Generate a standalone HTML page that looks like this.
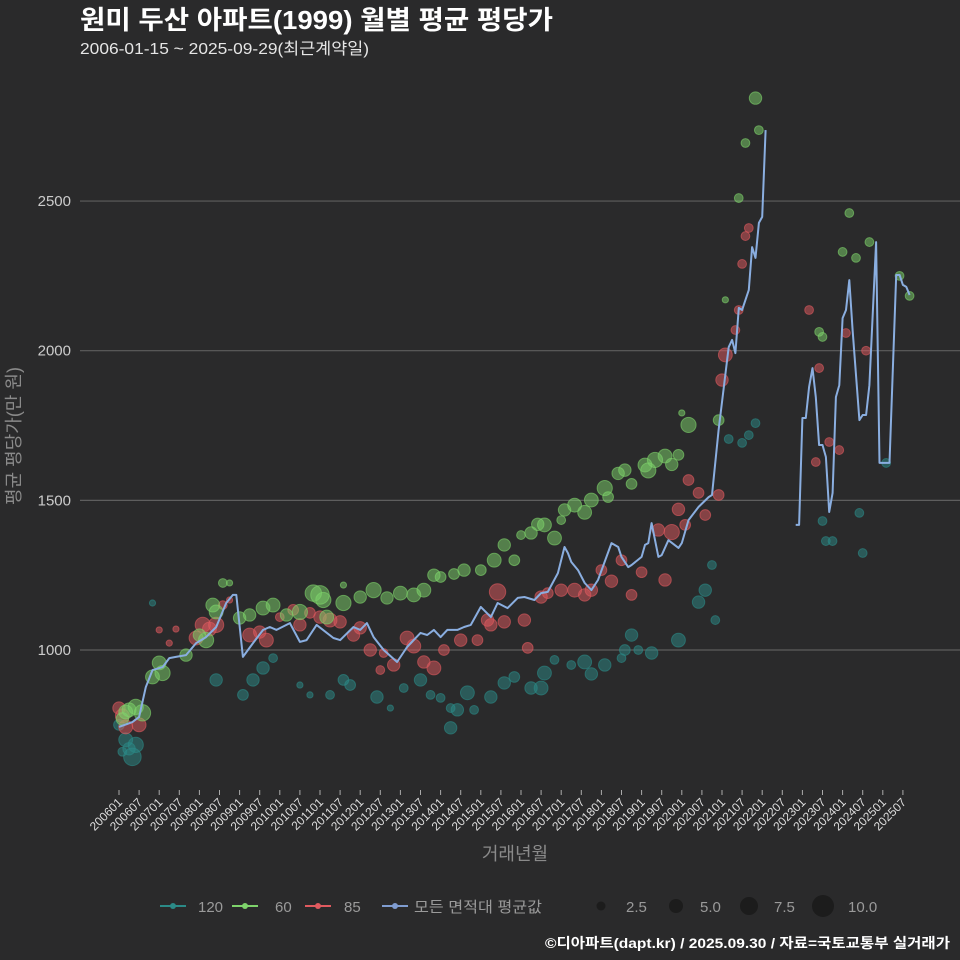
<!DOCTYPE html>
<html><head><meta charset="utf-8">
<style>
html,body{margin:0;padding:0;background:#2a2a2b;}
svg{display:block;font-family:"Liberation Sans","Noto Sans CJK KR",sans-serif;}
</style></head>
<body>
<svg id="chart" width="960" height="960" viewBox="0 0 960 960">
<rect x="0" y="0" width="960" height="960" fill="#2a2a2b"/>
<text x="80" y="29" fill="#ffffff" font-size="26" font-weight="bold" textLength="473" lengthAdjust="spacingAndGlyphs">원미 두산 아파트(1999) 월별 평균 평당가</text>
<text x="80" y="54" fill="#e6e6e6" font-size="16" textLength="289" lengthAdjust="spacingAndGlyphs">2006-01-15 ~ 2025-09-29(최근계약일)</text>
<text transform="translate(20,436) rotate(-90)" text-anchor="middle" fill="#8a8a8a" font-size="18">평균 평당가(만 원)</text>
<text x="515" y="860" text-anchor="middle" fill="#8a8a8a" font-size="18">거래년월</text>
<g id="grid"></g>
<g id="yticks"></g>
<g id="xticks"></g>
<g id="points"></g>
<g id="line"></g>
<g id="legend">
  <g><line x1="160" y1="906" x2="186" y2="906" stroke="#2b8a87" stroke-width="2"/><circle cx="173" cy="906" r="3" fill="#2b8a87"/><text x="198" y="912" fill="#9a9a9a" font-size="15">120</text></g>
  <g><line x1="232" y1="906" x2="258" y2="906" stroke="#7ed36b" stroke-width="2"/><circle cx="245" cy="906" r="3" fill="#7ed36b"/><text x="275" y="912" fill="#9a9a9a" font-size="15">60</text></g>
  <g><line x1="305" y1="906" x2="331" y2="906" stroke="#e05a5f" stroke-width="2"/><circle cx="318" cy="906" r="3" fill="#e05a5f"/><text x="344" y="912" fill="#9a9a9a" font-size="15">85</text></g>
  <g><line x1="382" y1="906" x2="408" y2="906" stroke="#7f9cd0" stroke-width="2"/><circle cx="395" cy="906" r="3" fill="#7f9cd0"/><text x="414" y="912" fill="#9a9a9a" font-size="15" textLength="128" lengthAdjust="spacingAndGlyphs">모든 면적대 평균값</text></g>
  <g>
    <circle cx="601" cy="906" r="4.5" fill="#1c1c1c"/><text x="626" y="912" fill="#9a9a9a" font-size="15">2.5</text>
    <circle cx="676" cy="906" r="7" fill="#1c1c1c"/><text x="700" y="912" fill="#9a9a9a" font-size="15">5.0</text>
    <circle cx="749" cy="906" r="9" fill="#1c1c1c"/><text x="774" y="912" fill="#9a9a9a" font-size="15">7.5</text>
    <circle cx="823" cy="906" r="11" fill="#1c1c1c"/><text x="848" y="912" fill="#9a9a9a" font-size="15">10.0</text>
  </g>
</g>
<text x="950" y="948" text-anchor="end" fill="#ffffff" font-size="14" font-weight="bold" textLength="405" lengthAdjust="spacingAndGlyphs">©디아파트(dapt.kr) / 2025.09.30 / 자료=국토교통부 실거래가</text>
</svg>
<script>
// ---- data ----
const yTicks = [1000, 1500, 2000, 2500];
const avgMonths = [0,4,6,8,10,13,15,17,20,23,26,29,32,34,35,37,40,43,45,47,51,54,56,59,64,66,70,72,74,76,79,83,86,90,92,94,96,98,101,103,105,108,111,113,116,119,121,124,126,128,131,133,134,135,137,139,141,143,147,149,150,152,153,156,157,158,159,161,162,164,167,168,170,173,176,177,179,182,183,184,185,186,188,189,190,191,192,193,197,202,203,204,205,206,207,208,209,210,211,212,213,214,215,216,217,218,219,221,222,223,224,226,227,230,232,233,234,235,236];
const avgValues = [743,759,776,876,933,943,973,977,983,1023,1043,1077,1157,1184,1184,977,1023,1067,1077,1067,1090,1027,1033,1084,1040,1033,1077,1067,1090,1043,1000,960,1010,1057,1050,1067,1043,1067,1067,1077,1084,1144,1110,1157,1140,1174,1177,1167,1190,1194,1257,1344,1324,1294,1267,1224,1200,1234,1357,1344,1311,1277,1284,1311,1351,1357,1424,1311,1317,1367,1341,1357,1434,1478,1511,1518,1735,2012,2036,1992,2143,2136,2203,2346,2310,2427,2447,2737,null,1418,1418,1775,1775,1879,1942,1845,1685,1685,1645,1461,1525,1845,1885,2109,2136,2236,2069,1768,1785,1785,1885,2363,1625,1625,2253,2253,2220,2213,2186];

const g60Months = [2,5,7,10,13,12,20,26,29,31,33,36,39,43,46,50,54,60,61,67,67,72,76,80,88,91,96,100,103,108,112,115,120,123,127,130,132,133,136,141,145,146,151,153,157,160,163,167,168,170,179,181,185,187,190,191,209,210,216,218,220,224,233,236,1,3,24,28,58,62,84,94,118,125,139,149,158,165];
const g60Values = [793,810,790,910,923,957,983,1033,1127,1224,1224,1107,1117,1140,1150,1117,1127,1184,1167,1157,1217,1177,1200,1174,1184,1200,1244,1254,1267,1267,1300,1351,1384,1391,1418,1374,1434,1468,1484,1501,1541,1511,1601,1555,1618,1635,1648,1652,1792,1752,1768,2170,2510,2694,2844,2737,2063,2046,2330,2460,2310,2363,2250,2183,770,800,1050,1150,1190,1110,1190,1250,1300,1420,1460,1590,1600,1620];
const g60Sizes = [5,6,7,5,6,5,4,6,5,2,1,4,4,5,5,4,6,9,6,6,1,4,6,4,5,5,3,3,4,3,5,4,2,4,5,5,2,4,5,5,6,3,4,3,5,6,5,3,1,6,3,1,2,2,4,2,2,2,2,2,2,2,2,2,4,5,4,5,7,5,5,4,3,4,5,4,6,4];

const g120Months = [0,2,4,5,10,29,40,43,46,37,54,57,63,67,69,77,81,85,90,93,96,99,101,104,106,99,111,115,118,123,126,127,130,135,139,141,145,150,151,153,155,159,167,173,175,177,178,210,211,213,221,222,182,186,188,190,229,3,1];
const g120Values = [750,700,643,683,1157,900,900,940,973,850,883,850,850,900,883,843,806,873,900,850,840,806,800,857,800,740,843,890,910,873,873,923,967,950,960,920,950,973,1000,1050,1000,990,1033,1160,1200,1284,1100,1431,1364,1364,1458,1324,1705,1692,1718,1758,1625,670,660];
const g120Sizes = [3,5,8,6,1,4,4,4,2,3,1,1,2,3,3,4,1,2,4,2,2,2,4,5,2,4,4,4,3,4,5,5,2,2,5,4,4,2,3,4,2,4,5,4,4,2,2,2,2,2,2,2,2,2,2,2,2,4,2];

const g85Months = [0,2,6,12,17,15,23,25,29,33,39,44,48,52,54,57,63,66,72,75,79,78,82,88,91,94,97,102,107,111,113,115,121,122,126,132,136,139,141,144,150,153,156,161,163,165,169,170,173,175,179,181,180,184,185,186,187,188,206,208,209,212,215,217,223,1,27,31,42,60,70,86,110,128,147,167];
const g85Values = [806,743,750,1067,1070,1023,1040,1084,1084,1167,1050,1033,1110,1134,1084,1124,1100,1094,1074,1000,990,933,950,1013,960,940,1000,1033,1033,1084,1194,1094,1100,1007,1177,1200,1200,1184,1200,1267,1300,1184,1260,1401,1234,1394,1418,1568,1525,1451,1518,1986,1902,2069,2136,2290,2383,2410,2136,1628,1942,1695,1668,2059,2000,780,1070,1150,1060,1110,1050,1040,1100,1190,1230,1470];
const g85Sizes = [4,5,5,1,1,1,5,6,6,1,5,5,2,3,4,3,5,4,4,4,2,2,4,5,4,5,3,4,3,4,7,4,4,3,4,4,5,4,4,3,3,3,3,4,4,6,3,3,3,3,3,5,4,2,2,2,2,2,2,2,2,2,2,2,2,5,5,2,4,4,4,5,4,3,4,4];

const xLabels = [];
for (let yy = 2006; yy <= 2025; yy++) { xLabels.push(yy + "01"); xLabels.push(yy + "07"); }

// ---- scales ----
const X0 = 119, PX_PER_MONTH = 20.1 / 6;
const xScale = m => X0 + m * PX_PER_MONTH;
const yScale = v => 650 - (v - 1000) * 0.2993;
const rScale = s => 3.1 * Math.sqrt(s);
const NS = "http://www.w3.org/2000/svg";
function mk(tag, attrs, parent) {
  const el = document.createElementNS(NS, tag);
  for (const k in attrs) el.setAttribute(k, attrs[k]);
  parent.appendChild(el);
  return el;
}

const grid = document.getElementById('grid');
const yt = document.getElementById('yticks');
yTicks.forEach(v => {
  const ln = mk('line', {x1: 80, x2: 960, y1: yScale(v), y2: yScale(v), stroke: '#5e5e5e', 'stroke-width': 1.2}, grid);
  
  
  const t = mk('text', {x: 71, y: yScale(v) + 5, 'text-anchor': 'end', fill: '#cccccc', 'font-size': 15}, yt);
  t.textContent = v;
  
  
});

const xt = document.getElementById('xticks');
xLabels.forEach((lab, i) => {
  const x = xScale(i * 6);
  const tk = mk('line', {x1: x, x2: x, y1: 790, y2: 795, stroke: '#aaaaaa', 'stroke-width': 1}, xt);
  
  
  const t = mk('text', {transform: 'translate(' + (x + 4) + ',803) rotate(-45)', 'text-anchor': 'end', fill: '#dddddd', 'font-size': 12}, xt);
  t.textContent = lab;
  
  
});

const pts = document.getElementById('points');
function series(months, values, sizes, color, name) {
  const g = mk('g', {}, pts);
  
  
  months.forEach((m, i) => {
    const c = mk('circle', {cx: xScale(m), cy: yScale(values[i]), r: rScale(sizes[i]), fill: color, 'fill-opacity': 0.5, stroke: color, 'stroke-opacity': 0.6, 'stroke-width': 1}, g);
    
    
  });
}
series(g120Months, g120Values, g120Sizes, '#2b8a87', '120');
series(g85Months, g85Values, g85Sizes, '#e05a5f', '85');
series(g60Months, g60Values, g60Sizes, '#7ed36b', '60');

const lg = document.getElementById('line');
let d = '', pen = false;
avgMonths.forEach((m, i) => {
  const v = avgValues[i];
  if (v === null) { pen = false; return; }
  d += (pen ? 'L' : 'M') + xScale(m).toFixed(1) + ',' + yScale(v).toFixed(1);
  pen = true;
});
const path = mk('path', {d: d, fill: 'none', stroke: '#8aaee0', 'stroke-width': 2, 'stroke-linejoin': 'round'}, lg);


</script>
</body></html>
